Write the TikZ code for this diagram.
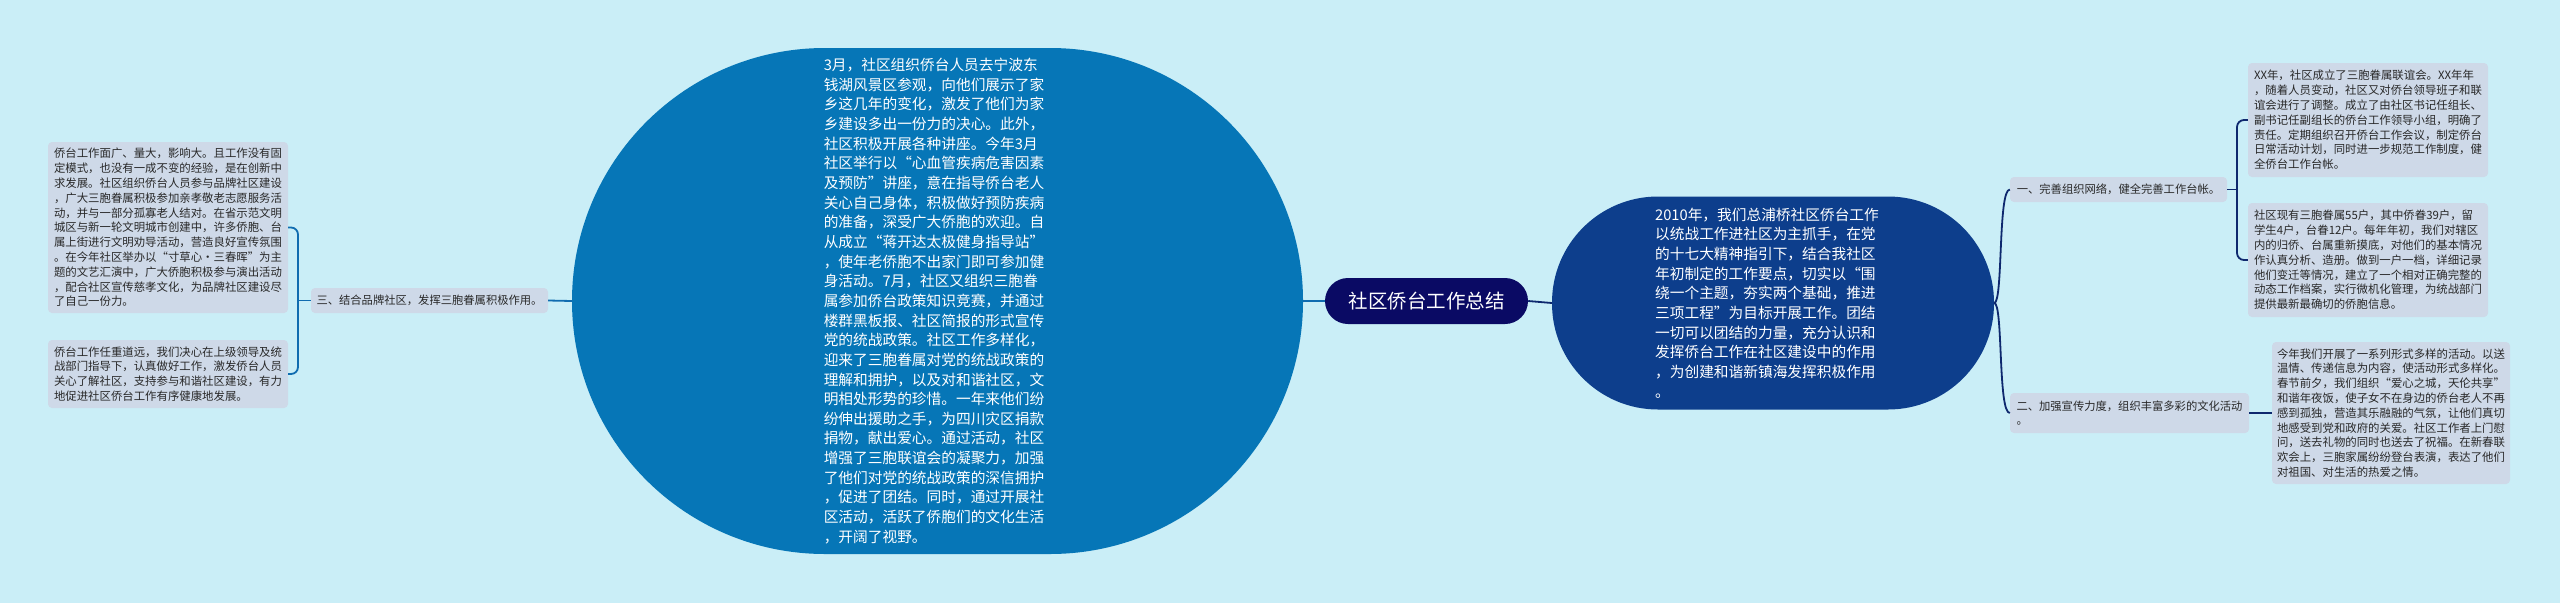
\documentclass[tikz,border=0pt]{standalone}
\usepackage{fontspec}
\setmainfont{Noto Sans CJK SC}
\usetikzlibrary{shapes.geometric,calc}
\definecolor{bg}{RGB}{202,238,247}
\definecolor{bigblue}{RGB}{6,118,183}
\definecolor{rightblue}{RGB}{13,62,140}
\definecolor{navy}{RGB}{10,10,100}
\definecolor{leafc}{RGB}{206,217,232}
\definecolor{txt}{RGB}{40,40,40}
\definecolor{lcol}{RGB}{16,108,176}
\definecolor{rcol}{RGB}{14,40,110}
\tikzset{
  leaf/.style={fill=leafc, rounded corners=4pt, inner xsep=5pt, inner ysep=0pt, align=left, text=txt, font=\fontsize{11.4}{14.8}\selectfont},
  branch/.style={fill=leafc, rounded corners=4pt, inner xsep=5pt, inner ysep=0pt, align=left, text=txt, font=\fontsize{11.3}{14.8}\selectfont},
  bigtext/.style={text=white, align=left, inner sep=0pt, font=\fontsize{14.7}{19.65}\selectfont},
  lconn/.style={draw=lcol, line width=1.8pt},
  rconn/.style={draw=rcol, line width=1.8pt},
}
\begin{document}
\begin{tikzpicture}[x=1pt,y=-1pt]
\useasboundingbox[fill=bg] (0,0) rectangle (2560,603);

% big left stadium
\node[rectangle, rounded corners=253pt, fill=bigblue, minimum width=731pt, minimum height=506pt, inner sep=0pt] (bigE) at (937.5,301) {};
\node[bigtext] (bigT) at (934,301) {3月，社区组织侨台人员去宁波东\\
钱湖风景区参观，向他们展示了家\\
乡这几年的变化，激发了他们为家\\
乡建设多出一份力的决心。此外，\\
社区积极开展各种讲座。今年3月\\
社区举行以“心血管疾病危害因素\\
及预防”讲座，意在指导侨台老人\\
关心自己身体，积极做好预防疾病\\
的准备，深受广大侨胞的欢迎。自\\
从成立“蒋开达太极健身指导站”\\
，使年老侨胞不出家门即可参加健\\
身活动。7月，社区又组织三胞眷\\
属参加侨台政策知识竞赛，并通过\\
楼群黑板报、社区简报的形式宣传\\
党的统战政策。社区工作多样化，\\
迎来了三胞眷属对党的统战政策的\\
理解和拥护，以及对和谐社区，文\\
明相处形势的珍惜。一年来他们纷\\
纷伸出援助之手，为四川灾区捐款\\
捐物，献出爱心。通过活动，社区\\
增强了三胞联谊会的凝聚力，加强\\
了他们对党的统战政策的深信拥护\\
，促进了团结。同时，通过开展社\\
区活动，活跃了侨胞们的文化生活\\
，开阔了视野。};

% right stadium
\node[rectangle, rounded corners=106pt, fill=rightblue, minimum width=442pt, minimum height=213pt, inner sep=0pt] (rE) at (1773,303) {};
\node[bigtext] (rT) at (1767,303) {2010年，我们总浦桥社区侨台工作\\
以统战工作进社区为主抓手，在党\\
的十七大精神指引下，结合我社区\\
年初制定的工作要点，切实以“围\\
绕一个主题，夯实两个基础，推进\\
三项工程”为目标开展工作。团结\\
一切可以团结的力量，充分认识和\\
发挥侨台工作在社区建设中的作用\\
，为创建和谐新镇海发挥积极作用\\
。};

% central node
\node[fill=navy, rounded corners=23pt, minimum width=203pt, minimum height=46pt, inner sep=0pt, text=white, font=\fontsize{19.5}{22}\selectfont] (ctr) at (1426.5,301) {社区侨台工作总结};

% left branch
\node[branch, minimum width=237pt, minimum height=25pt] (labL) at (429.5,300.5) {三、结合品牌社区，发挥三胞眷属积极作用。};
\node[leaf, minimum width=240pt, minimum height=171pt] (L1) at (168,227.5) {侨台工作面广、量大，影响大。且工作没有固\\
定模式，也没有一成不变的经验，是在创新中\\
求发展。社区组织侨台人员参与品牌社区建设\\
，广大三胞眷属积极参加亲孝敬老志愿服务活\\
动，并与一部分孤寡老人结对。在省示范文明\\
城区与新一轮文明城市创建中，许多侨胞、台\\
属上街进行文明劝导活动，营造良好宣传氛围\\
。在今年社区举办以“寸草心·三春晖”为主\\
题的文艺汇演中，广大侨胞积极参与演出活动\\
，配合社区宣传慈孝文化，为品牌社区建设尽\\
了自己一份力。};
\node[leaf, minimum width=240pt, minimum height=68pt] (L2) at (168,374) {侨台工作任重道远，我们决心在上级领导及统\\
战部门指导下，认真做好工作，激发侨台人员\\
关心了解社区，支持参与和谐社区建设，有力\\
地促进社区侨台工作有序健康地发展。};

% right branches
\node[branch, minimum width=217pt, minimum height=25pt] (rl1) at (2118.5,189.5) {一、完善组织网络，健全完善工作台帐。};
\node[branch, minimum width=239pt, minimum height=40pt] (rl2) at (2129.5,413) {二、加强宣传力度，组织丰富多彩的文化活动\\。};
\node[leaf, minimum width=240pt, minimum height=114pt] (R1) at (2368,120) {XX年，社区成立了三胞眷属联谊会。XX年年\\
，随着人员变动，社区又对侨台领导班子和联\\
谊会进行了调整。成立了由社区书记任组长、\\
副书记任副组长的侨台工作领导小组，明确了\\
责任。定期组织召开侨台工作会议，制定侨台\\
日常活动计划，同时进一步规范工作制度，健\\
全侨台工作台帐。};
\node[leaf, minimum width=240pt, minimum height=114pt] (R2) at (2368,260) {社区现有三胞眷属55户，其中侨眷39户，留\\
学生4户，台眷12户。每年年初，我们对辖区\\
内的归侨、台属重新摸底，对他们的基本情况\\
作认真分析、造册。做到一户一档，详细记录\\
他们变迁等情况，建立了一个相对正确完整的\\
动态工作档案，实行微机化管理，为统战部门\\
提供最新最确切的侨胞信息。};
\node[leaf, minimum width=238pt, minimum height=142pt] (R3) at (2391,413) {今年我们开展了一系列形式多样的活动。以送\\
温情、传递信息为内容，使活动形式多样化。\\
春节前夕，我们组织“爱心之城，天伦共享”\\
和谐年夜饭，使子女不在身边的侨台老人不再\\
感到孤独，营造其乐融融的气氛，让他们真切\\
地感受到党和政府的关爱。社区工作者上门慰\\
问，送去礼物的同时也送去了祝福。在新春联\\
欢会上，三胞家属纷纷登台表演，表达了他们\\
对祖国、对生活的热爱之情。};

% connectors
\coordinate (busL) at (298,300.5);
\coordinate (busR) at (2237,189.5);
\draw[lconn] (ctr.west) -- (bigE.east);
\draw[rconn] (ctr.east) -- (rE.west);
\draw[lconn] (bigE.west) -- (labL.east);
\draw[lconn] (labL.west) -- (busL);
\draw[lconn, rounded corners=7pt] (L1.east) -| (busL) |- (L2.east);
\draw[rconn] (rE.east) .. controls ($(rE.east)+(9,0)$) and ($(rl1.west)+(-12,0)$) .. (rl1.west);
\draw[rconn] (rE.east) .. controls ($(rE.east)+(9,0)$) and ($(rl2.west)+(-12,0)$) .. (rl2.west);
\draw[rconn] (rl1.east) -- (busR);
\draw[rconn, rounded corners=7pt] (R1.west) -| (busR) |- (R2.west);
\draw[rconn] (rl2.east) -- (R3.west);
\end{tikzpicture}
\end{document}
